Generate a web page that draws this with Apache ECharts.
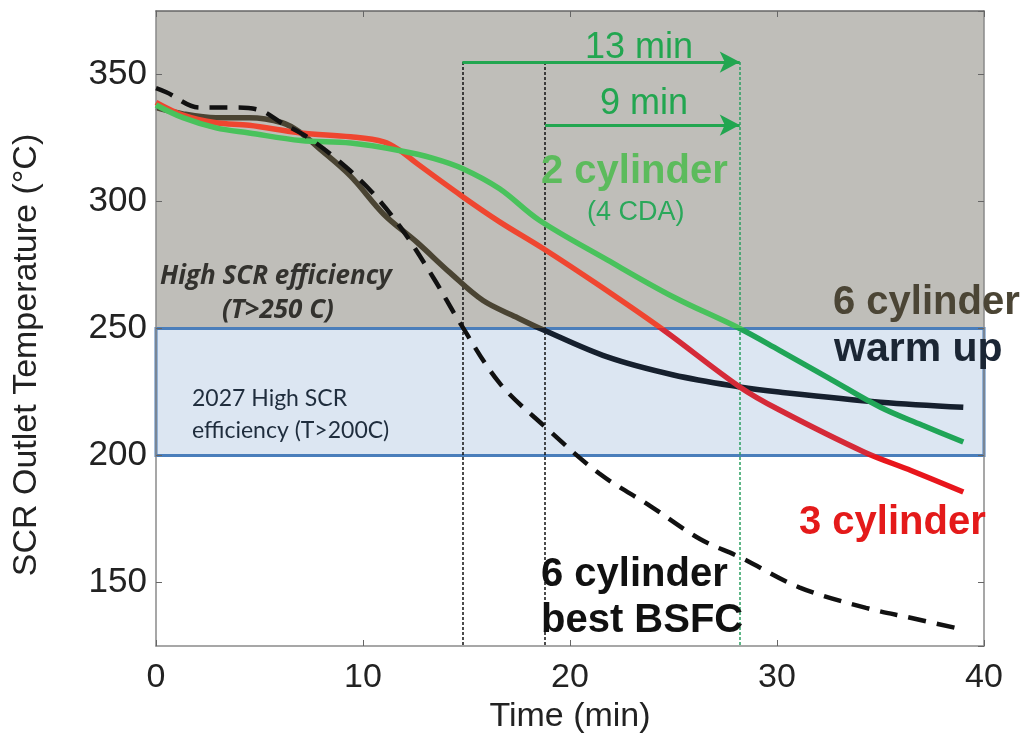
<!DOCTYPE html>
<html>
<head>
<meta charset="utf-8">
<script src="https://cdn.jsdelivr.net/npm/echarts@6/dist/echarts.min.js"></script>
<style>
  html, body { margin: 0; padding: 0; background: #fff; }
  #chart { width: 1022px; height: 740px; }
</style>
</head>
<body>
<div id="chart"></div>
<script>
// 2 cylinder (4 CDA)
const twoCylTime = [0, 1.3, 2.9, 4.5, 7, 9.4, 11.8, 13.4, 14.8, 16.6, 18.5, 21.8, 25, 28.2, 30.1, 32.5, 35, 37, 39];
const twoCylTemp = [338, 333, 329, 327, 324, 323, 320, 317, 313, 305, 292.7, 277, 262.4, 250, 241.5, 230.5, 219, 212, 205.3];

// 3 cylinder
const threeCylTime = [0, 1.3, 2.9, 4.5, 7, 9.4, 11, 11.8, 12.6, 14.8, 16.6, 18.7, 21.4, 24.5, 28.2, 30.1, 34.2, 36.5, 39];
const threeCylTemp = [339, 334, 331, 330, 327, 325.5, 323.5, 320, 315, 302, 292, 281.5, 267, 249.5, 227, 218, 201.4, 194, 185.6];

// 6 cylinder warm up
const warmTime = [0, 1.3, 2.9, 4.5, 6.1, 7, 7.8, 9.4, 11, 12.6, 14.2, 15.8, 17.4, 18.7, 21.8, 25, 28.2, 30.1, 35, 39];
const warmTemp = [337, 334.5, 333, 333, 331, 327, 321.5, 310, 295, 284, 272, 261, 254.5, 249.5, 238.8, 231.7, 227, 225, 221, 219];

// 6 cylinder best BSFC (dashed)
const bsfcTime = [0, 0.5, 2.1, 3.7, 5, 6.1, 7.3, 8.6, 10.2, 11.8, 13.4, 14.7, 16.6, 18.7, 21.4, 23.9, 26.3, 28.2, 31.1, 34.3, 36.5, 38.7];
const bsfcTemp = [344.6, 343, 337, 337, 336, 330.8, 325.4, 317.5, 305.7, 290, 270, 252, 228.5, 212, 193, 180, 167, 160, 148, 140, 136, 132];

// annotation values
const markTimes = [14.8, 18.8, 28.2];      // when each curve leaves 250 C
const arrowLevels = [354.9, 330.1];        // 13 min and 9 min arrows
const highLimit = 250;
const lowLimit = 200;
const xRange = { min: 0, max: 40, interval: 10 };
const yRange = { min: 125, max: 375 };

const pairs = (t, v) => t.map((x, i) => [x, v[i]]);

const chart = echarts.init(document.getElementById('chart'), null, { renderer: 'canvas' });

const axisColor = '#8a8a8a';
const labelFont = { fontFamily: 'Liberation Sans, Arial, sans-serif', color: '#222' };
const green = '#22a650';
const dotted = [3, 2];
const bold40 = 'bold 40px "Liberation Sans", Arial';

const curve = { type: 'line', symbol: 'none', smooth: 0.35 };

chart.setOption({
  animation: false,
  backgroundColor: '#fff',
  grid: { left: 156, right: 38, top: 11, bottom: 94, outerBoundsMode: 'none', containLabel: false },
  xAxis: [
    {
      type: 'value', min: xRange.min, max: xRange.max, interval: xRange.interval, z: 5,
      name: 'Time (min)', nameLocation: 'middle', nameGap: 54,
      nameTextStyle: { ...labelFont, fontSize: 34 },
      axisLine: { lineStyle: { color: axisColor, width: 1.5 } },
      axisTick: { inside: true, length: 6, lineStyle: { color: '#666' } },
      axisLabel: { ...labelFont, fontSize: 34, margin: 15 },
      splitLine: { show: false },
    },
    {
      type: 'value', position: 'top', min: xRange.min, max: xRange.max, interval: xRange.interval, z: 5,
      axisLine: { onZero: false, lineStyle: { color: '#666', width: 1.5 } },
      axisTick: { inside: true, length: 6, lineStyle: { color: '#666' } },
      axisLabel: { show: false },
      splitLine: { show: false },
    },
  ],
  yAxis: [
    {
      type: 'value', min: yRange.min, max: yRange.max, splitNumber: 5, z: 5,
      axisLine: { onZero: false, lineStyle: { color: axisColor, width: 1.5 } },
      axisTick: { inside: true, length: 6, lineStyle: { color: '#666' } },
      axisLabel: { ...labelFont, fontSize: 35, margin: 9, showMinLabel: false, showMaxLabel: false },
      splitLine: { show: false },
    },
    {
      type: 'value', position: 'right', min: yRange.min, max: yRange.max, splitNumber: 5, z: 5,
      axisLine: { onZero: false, lineStyle: { color: axisColor, width: 1.5 } },
      axisTick: { inside: true, length: 6, lineStyle: { color: '#666' } },
      axisLabel: { show: false },
      splitLine: { show: false },
    },
  ],
  series: [
    {
      // background zones
      type: 'line', data: [], z: 0, silent: true,
      markArea: {
        silent: true,
        data: [
          [{ yAxis: highLimit, itemStyle: { color: '#bfbeb9' } }, { yAxis: yRange.max }],
          [{ yAxis: lowLimit, itemStyle: { color: '#dce6f2', borderColor: '#4a7ebb', borderWidth: 3 } }, { yAxis: highLimit }],
        ],
      },
    },
    { ...curve, name: '2 cylinder', data: pairs(twoCylTime, twoCylTemp), z: 6, lineStyle: { width: 5.5, color: '#3cb85a' } },
    { ...curve, name: '3 cylinder', data: pairs(threeCylTime, threeCylTemp), z: 5, lineStyle: { width: 5.5, color: '#e63a30' } },
    { ...curve, name: '6 cylinder warm up', data: pairs(warmTime, warmTemp), z: 4, lineStyle: { width: 5.5, color: '#2a2a2a' } },
    {
      ...curve, name: '6 cylinder best BSFC', data: pairs(bsfcTime, bsfcTemp), z: 7,
      lineStyle: { width: 4.5, color: '#111', type: [18, 11] },
      markLine: {
        silent: true, symbol: ['none', 'none'], label: { show: false }, z: 3,
        data: [
          [{ coord: [markTimes[0], arrowLevels[0]], lineStyle: { color: '#111', width: 1.5, type: dotted } },
           { coord: [markTimes[0], yRange.min] }],
          [{ coord: [markTimes[1], arrowLevels[0]], lineStyle: { color: '#111', width: 1.5, type: dotted } },
           { coord: [markTimes[1], yRange.min] }],
          [{ coord: [markTimes[2], arrowLevels[0]], lineStyle: { color: '#2aa060', width: 1.5, type: dotted } },
           { coord: [markTimes[2], yRange.min] }],
          [{ coord: [markTimes[0], arrowLevels[0]], lineStyle: { color: green, width: 3, type: 'solid' } },
           { coord: [markTimes[2], arrowLevels[0]], symbol: 'arrow', symbolSize: [16, 20] }],
          [{ coord: [markTimes[1], arrowLevels[1]], lineStyle: { color: green, width: 3, type: 'solid' } },
           { coord: [markTimes[2], arrowLevels[1]], symbol: 'arrow', symbolSize: [16, 20] }],
        ],
      },
    },
  ],
  graphic: [
    { type: 'text', x: 27, y: 355, rotation: Math.PI / 2, z: 20,
      style: { text: 'SCR Outlet Temperature (\u00B0C)', fill: '#222', font: '34px "Liberation Sans", Arial', textAlign: 'center', textVerticalAlign: 'middle' } },
    { type: 'text', left: 585, top: 30, z: 20, style: { text: '13 min', fill: green, font: '36px "Liberation Sans", Arial' } },
    { type: 'text', left: 600, top: 86, z: 20, style: { text: '9 min', fill: green, font: '36px "Liberation Sans", Arial' } },
    { type: 'text', left: 541, top: 152, z: 20, style: { text: '2 cylinder', fill: '#5cbb5c', font: bold40 } },
    { type: 'text', left: 587, top: 199, z: 20, style: { text: '(4 CDA)', fill: '#2aa85a', font: '27px "Liberation Sans", Arial' } },
    { type: 'text', left: 160, top: 264, z: 20, style: { text: 'High SCR efficiency', fill: '#33322e', font: 'italic bold 26px "Open Sans", sans-serif' } },
    { type: 'text', left: 222, top: 298, z: 20, style: { text: '(T>250 C)', fill: '#33322e', font: 'italic bold 26px "Open Sans", sans-serif' } },
    { type: 'text', left: 833, top: 283, z: 20, style: { text: '6 cylinder', fill: '#4b4535', font: bold40 } },
    { type: 'text', left: 834, top: 329, z: 20, style: { text: 'warm up', fill: '#1b2634', font: 'bold 41px "Liberation Sans", Arial' } },
    { type: 'text', left: 192, top: 387, z: 20, style: { text: '2027 High SCR', fill: '#1f2d3d', font: '23px Lato, "Open Sans", sans-serif' } },
    { type: 'text', left: 192, top: 419, z: 20, style: { text: 'efficiency (T>200C)', fill: '#1f2d3d', font: '23px Lato, "Open Sans", sans-serif' } },
    { type: 'text', left: 799, top: 503, z: 20, style: { text: '3 cylinder', fill: '#e41a1a', font: bold40 } },
    { type: 'text', left: 541, top: 555, z: 20, style: { text: '6 cylinder', fill: '#111', font: bold40 } },
    { type: 'text', left: 541, top: 601, z: 20, style: { text: 'best BSFC', fill: '#111', font: bold40 } },
  ],
});

// Colour the curves by temperature band, the way they look in the original
// (the bands tint the lines). Stops come from the y axis so they follow the scale.
const yTop = chart.convertToPixel({ yAxisIndex: 0 }, yRange.max);
const yBottom = chart.convertToPixel({ yAxisIndex: 0 }, yRange.min);
const frac = v => (yRange.max - v) / (yRange.max - yRange.min);
const bands = (above, mid, below) => new echarts.graphic.LinearGradient(0, yTop, 0, yBottom, [
  { offset: 0, color: above },
  { offset: frac(highLimit), color: above },
  { offset: frac(highLimit), color: mid },
  { offset: frac(lowLimit), color: mid },
  { offset: frac(lowLimit), color: below },
  { offset: 1, color: below },
], true);

chart.setOption({
  series: [
    {},
    { lineStyle: { color: bands('#49c25c', '#20a557', '#20a557') } },
    { lineStyle: { color: bands('#ef4630', '#d52a38', '#e8161c') } },
    { lineStyle: { color: bands('#4a4433', '#16202e', '#16202e') } },
    {},
  ],
});
</script>
</body>
</html>
